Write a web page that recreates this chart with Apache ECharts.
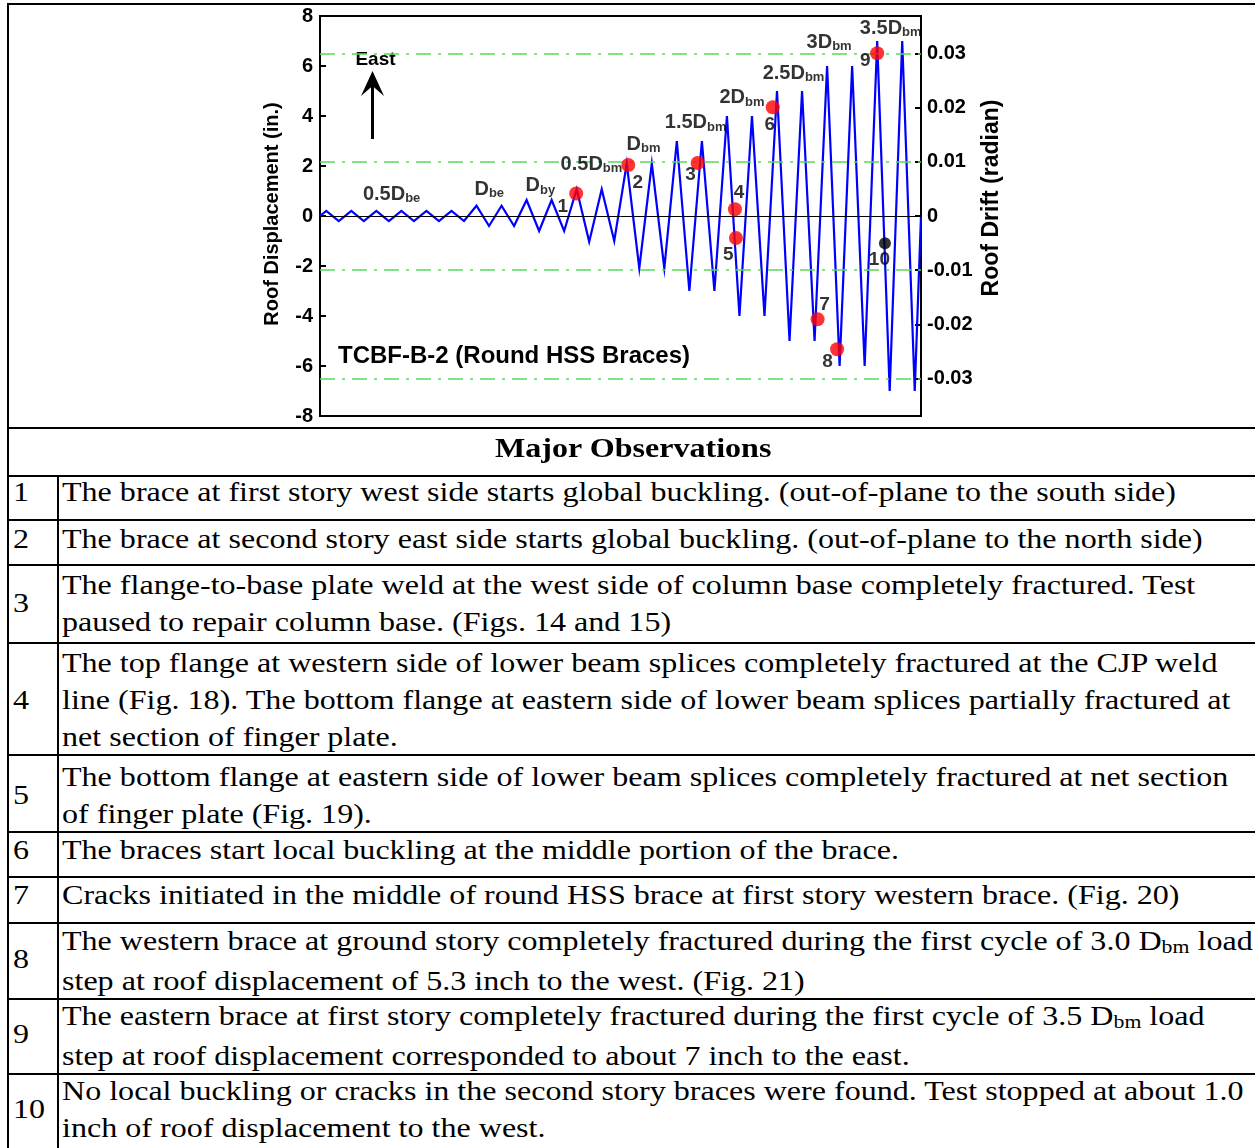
<!DOCTYPE html>
<html><head><meta charset="utf-8">
<script src="https://cdn.jsdelivr.net/npm/echarts@6/dist/echarts.min.js"></script>
<style>
html,body{margin:0;padding:0;background:#fff;width:1255px;height:1148px;overflow:hidden;position:relative}
#chart{position:absolute;left:0;top:0;width:1255px;height:428px}
.hl{position:absolute;left:7px;width:1248px;height:2px;background:#000}
.vl{position:absolute;width:2px;background:#000}
.cell{position:absolute;font-family:"Liberation Serif","Times New Roman",serif;font-size:26.5px;line-height:37px;color:#000;white-space:nowrap;transform:scaleX(1.21);transform-origin:0 50%}
.sub{font-size:18px;position:relative;top:3px}
.hdr{position:absolute;left:9px;width:1248px;text-align:center;font-family:"Liberation Serif","Times New Roman",serif;font-weight:bold;font-size:26.5px;line-height:37px;white-space:nowrap}
.hdr span{display:inline-block;transform:scaleX(1.21);transform-origin:50% 50%}
</style></head>
<body>
<div id="chart"></div>
<div id="table"></div>
<script>
// ---------------- data ----------------
// loading protocol: peak (east, +) and trough (west, -) roof displacement of each cycle (in.)
const cyclePeaks   = [0.2,0.2,0.2,0.2,0.2,0.2, 0.41,0.41, 0.64,0.64, 1.07,1.07, 2.1,2.1, 3.0,3.0, 4.0,4.0, 5.0,5.0, 6.0,6.0, 7.0,7.0];
const cycleTroughs = [-0.2,-0.2,-0.2,-0.2,-0.2,-0.2, -0.4,-0.4, -0.6,-0.6, -1.03,-1.0, -2.09,-2.09, -3.0,-3.0, -4.0,-4.0, -5.0,-5.0, -6.0,-6.0, -7.0,-7.0];
// step names (load step labels)
const stepNames = ['0.5D','D','D','0.5D','D','1.5D','2D','2.5D','3D','3.5D'];
const stepSubs  = ['be','be','by','bm','bm','bm','bm','bm','bm','bm'];
const stepT     = [2.86,6.76,8.8,10.84,12.92,15.0,16.85,18.91,20.33,22.79];
const stepDisp  = [0.88,1.08,1.22,2.08,2.88,3.74,4.74,5.72,6.96,7.51];
// observation points (cycle time, roof displacement in.)
const obsIds  = ['1','2','3','4','5','6','7','8','9','10'];
const obsT    = [10.23,12.31,15.08,16.57,16.61,18.08,19.87,20.65,22.25,22.56];
const obsDisp = [0.9,2.04,2.12,0.27,-0.88,4.35,-4.13,-5.33,6.51,-1.09];
// right axis: roof drift (radian); roof height used for conversion (in.)
const roofHeight = 216.5;
const driftTicks  = [-0.03,-0.02,-0.01,0,0.01,0.02,0.03];
const driftGuides = [-0.03,-0.01,0.01,0.03];
const dispTicksInterval = 2;
// observation table
const obsLines = [
 ["The brace at first story west side starts global buckling. (out-of-plane to the south side)"],
 ["The brace at second story east side starts global buckling. (out-of-plane to the north side)"],
 ["The flange-to-base plate weld at the west side of column base completely fractured. Test","paused to repair column base. (Figs. 14 and 15)"],
 ["The top flange at western side of lower beam splices completely fractured at the CJP weld","line (Fig. 18). The bottom flange at eastern side of lower beam splices partially fractured at","net section of finger plate."],
 ["The bottom flange at eastern side of lower beam splices completely fractured at net section","of finger plate (Fig. 19)."],
 ["The braces start local buckling at the middle portion of the brace."],
 ["Cracks initiated in the middle of round HSS brace at first story western brace. (Fig. 20)"],
 ["The western brace at ground story completely fractured during the first cycle of 3.0 D_bm load","step at roof displacement of 5.3 inch to the west. (Fig. 21)"],
 ["The eastern brace at first story completely fractured during the first cycle of 3.5 D_bm load","step at roof displacement corresponded to about 7 inch to the east."],
 ["No local buckling or cracks in the second story braces were found. Test stopped at about 1.0","inch of roof displacement to the west."]
];

// ---------------- layout (pixels) ----------------
const dotLabelOffsets = [[-13.5,13],[9.5,18],[-7,12],[4,-16],[-7.6,17],[-3,18],[7,-14],[-9.6,12.4],[-12,8],[-5.5,17]];
const hLines = [3,427,475,518.5,564,642,754,831,876,922,997.5,1072.5];
const capCenters = [492,539,585,663,777,850,895,941,1016,1091];

// ---------------- build chart ----------------
const loadPts = [[0,0]];
cyclePeaks.forEach((p,i)=>{ loadPts.push([i+0.25,p]); loadPts.push([i+0.75,cycleTroughs[i]]); });
loadPts.push([cyclePeaks.length,0]);

const FONT = '"Liberation Sans", Arial, sans-serif';
const redData = [], blackData = [];
obsIds.forEach((id,i)=>{
  const item = {value:[obsT[i],obsDisp[i]], name:id, label:{offset:dotLabelOffsets[i]}};
  (id==='10' ? blackData : redData).push(item);
});
const dotLabel = {show:true, position:'inside', formatter:p=>p.name, color:'#000', fontFamily:FONT, fontWeight:'bold', fontSize:19};

const chart = echarts.init(document.getElementById('chart'), null, {renderer:'canvas'});
chart.setOption({
  animation:false,
  textStyle:{fontFamily:FONT},
  grid:{left:320, top:16, width:601, height:400, show:true, borderColor:'#000', borderWidth:2},
  xAxis:{type:'value', min:0, max:cyclePeaks.length, show:false},
  yAxis:[
    {type:'value', min:-8, max:8, interval:dispTicksInterval, position:'left',
     axisLine:{show:true, lineStyle:{color:'#000', width:2}},
     axisTick:{show:true, inside:true, length:6, lineStyle:{color:'#000', width:2}},
     axisLabel:{color:'#000', fontFamily:FONT, fontWeight:'bold', fontSize:20, margin:7},
     splitLine:{show:false}},
    {type:'value', min:-8/roofHeight, max:8/roofHeight, position:'right',
     axisLine:{show:true, lineStyle:{color:'#000', width:2}},
     axisTick:{show:true, inside:true, length:6, customValues:driftTicks, lineStyle:{color:'#000', width:2}},
     axisLabel:{show:true, customValues:driftTicks, color:'#000', fontFamily:FONT, fontWeight:'bold', fontSize:20, margin:6,
       formatter:v=>String(Math.round(v*100)/100)},
     splitLine:{show:false}}
  ],
  series:[
    {type:'line', yAxisIndex:1, data:[], z:1, silent:true,
     markLine:{silent:true, symbol:'none', label:{show:false}, animation:false,
       lineStyle:{color:'#5cd65c', width:1.5, type:[15,7,3,7]},
       emphasis:{disabled:true},
       data:driftGuides.map(v=>({yAxis:v}))}},
    {type:'line', yAxisIndex:0, data:[], z:1, silent:true,
     markLine:{silent:true, symbol:'none', label:{show:false}, animation:false,
       lineStyle:{color:'#000', width:1, type:'solid'},
       emphasis:{disabled:true},
       data:[{yAxis:0}]}},
    {type:'line', data:loadPts, showSymbol:false, z:3, silent:true,
     lineStyle:{color:'#0000ff', width:2.2, join:'miter'}},
    {type:'scatter', data:redData, symbolSize:14, z:5, itemStyle:{color:'#ff0000'}, label:dotLabel},
    {type:'scatter', data:blackData, symbolSize:12, z:5, itemStyle:{color:'#000'}, label:dotLabel},
    {type:'scatter', z:6, symbolSize:1, itemStyle:{color:'rgba(0,0,0,0)'},
     data:stepNames.map((n,i)=>({value:[stepT[i],stepDisp[i]], name:n})),
     label:{show:true, position:'inside', color:'#000',
       formatter:p=>'{m|'+p.name+'}{s|'+stepSubs[p.dataIndex]+'}',
       rich:{m:{fontFamily:FONT, fontWeight:'bold', fontSize:20, lineHeight:22, color:'#000'},
             s:{fontFamily:FONT, fontWeight:'bold', fontSize:13, lineHeight:13, padding:[9,0,0,0], color:'#000'}}}}
  ],
  graphic:[
    {type:'text', x:272.5, y:214, rotation:Math.PI/2,
     style:{text:'Roof Displacement (in.)', font:'bold 20px '+FONT, fill:'#000', align:'center', verticalAlign:'middle', textAlign:'center', textVerticalAlign:'middle'}},
    {type:'text', x:991.5, y:198, rotation:Math.PI/2,
     style:{text:'Roof Drift (radian)', font:'bold 23px '+FONT, fill:'#000', align:'center', verticalAlign:'middle', textAlign:'center', textVerticalAlign:'middle'}},
    {type:'text', x:514, y:356,
     style:{text:'TCBF-B-2 (Round HSS Braces)', font:'bold 24px '+FONT, fill:'#000', align:'center', verticalAlign:'middle', textAlign:'center', textVerticalAlign:'middle'}},
    {type:'text', x:375.5, y:59.5,
     style:{text:'East', font:'bold 19px '+FONT, fill:'#000', align:'center', verticalAlign:'middle', textAlign:'center', textVerticalAlign:'middle'}},
    {type:'line', shape:{x1:372.5, y1:139, x2:372.5, y2:82}, style:{stroke:'#000', lineWidth:3}},
    {type:'polygon', shape:{points:[[372.5,71],[361,96],[372.5,86],[384,96]]}, style:{fill:'#000'}}
  ]
});

// ---------------- build table ----------------
const tbl = document.getElementById('table');
function add(html){ tbl.insertAdjacentHTML('beforeend', html); }
hLines.forEach(y=>add('<div class="hl" style="top:'+y+'px"></div>'));
add('<div class="vl" style="left:7px;top:3px;height:1150px"></div>');
add('<div class="vl" style="left:57px;top:475px;height:680px"></div>');
add('<div class="hdr" style="top:'+(448-18.5)+'px"><span>Major Observations</span></div>');
obsLines.forEach((lines,i)=>{
  const top = capCenters[i]-18.5;
  const html = lines.map(l=>l.replace(/D_bm/g,'D<span class="sub">bm</span>')).join('<br>');
  add('<div class="cell" style="left:62px;top:'+top+'px">'+html+'</div>');
  add('<div class="cell" style="left:13px;top:'+(top+(lines.length-1)*18.5)+'px">'+obsIds[i]+'</div>');
});
</script>
</body></html>
